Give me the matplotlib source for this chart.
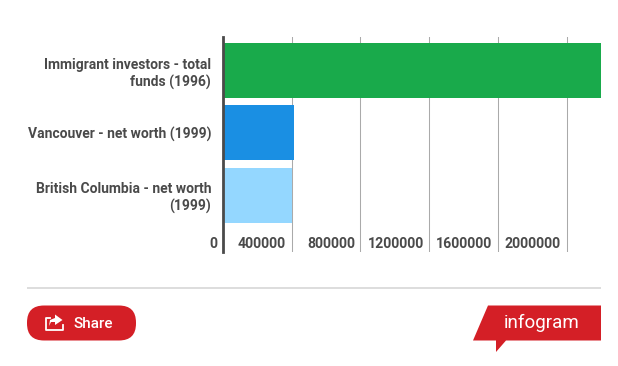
# plot.py: infogram style horizontal bars with share / logo footer

import matplotlib
matplotlib.use("Agg")
import matplotlib.pyplot as plt
from matplotlib.patches import FancyBboxPatch, Polygon

W, H = 618, 366

categories = [
    "Immigrant investors - total\nfunds (1996)",
    "Vancouver - net worth (1999)",
    "British Columbia - net worth\n(1999)",
]
values = [2200000, 413000, 400000]
bar_colors = ["#19AA4B", "#1A8FE3", "#94D7FF"]
x_ticks = [0, 400000, 800000, 1200000, 1600000, 2000000]
x_max = 2200000

RED = "#D41F26"
TEXT = "#4A4A4A"

plt.rcParams["font.family"] = ["Roboto", "DejaVu Sans"]

fig = plt.figure(figsize=(W / 100, H / 100), dpi=100, facecolor="white")

# chart area, placed in pixels
left, right, top, bottom = 223, 601, 37, 252
ax = fig.add_axes([left / W, 1 - bottom / H, (right - left) / W, (bottom - top) / H])
ax.set_xlim(0, x_max)
ax.set_ylim(2.912, -0.536)

for t in x_ticks[1:]:
    ax.axvline(t, color="#AAAAAA", lw=0.75, zorder=1)
ax.barh(range(len(values)), values, height=0.88, color=bar_colors, zorder=2)

for s in ["top", "right", "bottom"]:
    ax.spines[s].set_visible(False)
ax.spines["left"].set_color("#4A4A4A")
ax.spines["left"].set_linewidth(2)
ax.spines["left"].set_zorder(3)

ax.set_yticks(range(len(categories)))
ax.set_yticklabels(categories, fontsize=10, fontweight="bold", color=TEXT,
                   ha="right", linespacing=1.25)
ax.tick_params(axis="y", length=0, pad=8.5)
ax.set_xticks([])
for t in x_ticks:
    ax.annotate(str(t), (t, 0), xycoords=("data", "axes fraction"), xytext=(-4, 1),
                textcoords="offset points", ha="right", va="bottom", fontsize=10.2,
                fontweight="bold", color=TEXT)

# footer, drawn on an overlay in pixel coordinates
ov = fig.add_axes([0, 0, 1, 1], zorder=5)
ov.set_xlim(0, W)
ov.set_ylim(H, 0)
ov.axis("off")
ov.patch.set_alpha(0)

ov.plot([27, 601], [287.5, 287.5], color="#DDDDDD", lw=1.4, solid_capstyle="butt")

ov.add_patch(FancyBboxPatch((27, 305.5), 109, 35, boxstyle="round,pad=0,rounding_size=17",
                            fc=RED, ec="none"))
ov.text(74, 323.5, "Share", color="white", fontsize=11, fontweight="medium",
        ha="left", va="center")

# share icon
ov.plot([50, 46, 46, 62.5, 62.5], [318, 318, 329.5, 329.5, 325], color="white", lw=1.3)
ov.add_patch(Polygon([[49, 326], [50, 320], [55, 318], [55, 314.5], [62.5, 320],
                      [55, 325], [55, 322], [51, 322]], fc="white", ec="none"))

# logo flag
ov.add_patch(Polygon([[488, 305.5], [601, 305.5], [601, 340.5], [506, 340.5], [496, 352],
                      [496, 340.5], [473, 340.5]], fc=RED, ec="none"))
ov.text(542, 322.5, "infogram", color="white", fontsize=13.5, ha="center", va="center")

fig.savefig("out.png", dpi=100, facecolor="white")
